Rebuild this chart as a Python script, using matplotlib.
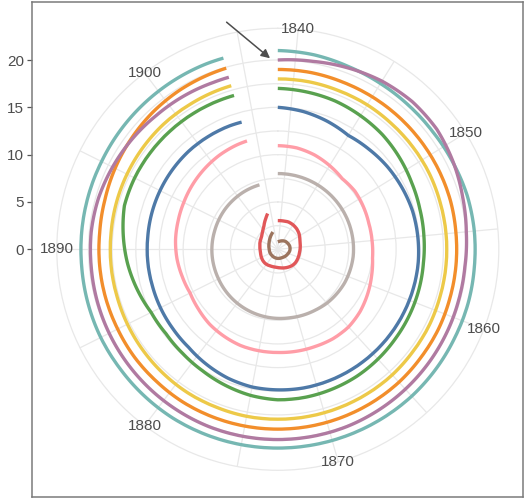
import numpy as np
import matplotlib
matplotlib.use("Agg")
import matplotlib.pyplot as plt

plt.rcParams['font.family'] = ['Liberation Sans', 'DejaVu Sans']

# ---------------- data ----------------
YEARS = [1839, 1841, 1843, 1845, 1847, 1849, 1851, 1853, 1855, 1857, 1859,
         1861, 1863, 1865, 1867, 1869, 1871, 1873, 1875, 1877, 1879, 1881,
         1883, 1885, 1887, 1889, 1891, 1893, 1895, 1897, 1899, 1901, 1903, 1904]

teal   = [21.0, 20.9, 20.7, 20.6, 20.55, 20.55, 20.65, 20.8, 20.85, 20.85, 20.9,
          20.9, 20.95, 21.0, 21.0, 21.0, 21.0, 21.0, 21.0, 21.0, 21.0, 20.95,
          20.9, 20.9, 20.85, 20.8, 20.8, 20.8, 20.8, 20.85, 20.9, 20.95, 21.0, 21.0]
purple = [20.0, 20.2, 20.55, 20.9, 21.1, 21.05, 20.7, 20.3, 20.0, 19.85, 19.85,
          19.9, 19.95, 20.0, 20.05, 20.1, 20.1, 20.1, 20.1, 20.1, 20.05, 20.0,
          19.95, 19.9, 19.85, 19.8, 19.8, 19.7, 19.5, 19.3, 19.1, 19.0, 18.9, 18.9]
orange = [19.0, 19.0, 18.95, 18.95, 18.95, 18.95, 18.95, 18.95, 18.9, 18.9, 18.9,
          18.95, 18.95, 19.0, 19.0, 19.0, 19.0, 19.0, 19.0, 19.0, 19.0, 18.95,
          18.95, 18.9, 18.9, 18.9, 18.9, 19.0, 19.2, 19.4, 19.6, 19.75, 19.85, 19.9]
yellow = [18.0, 18.0, 17.95, 17.95, 17.9, 17.9, 17.9, 17.85, 17.85, 17.85, 17.85,
          17.9, 17.9, 17.95, 17.95, 17.95, 17.95, 17.95, 17.95, 17.9, 17.9, 17.85,
          17.8, 17.75, 17.7, 17.7, 17.7, 17.75, 17.8, 17.85, 17.9, 17.9, 17.95, 17.97]
green  = [17.0, 16.9, 16.8, 16.6, 16.4, 16.1, 15.8, 15.6, 15.5, 15.45, 15.5,
          15.55, 15.6, 15.7, 15.8, 15.85, 15.9, 15.9, 15.7, 15.4, 15.1, 14.9,
          14.8, 14.95, 15.45, 15.95, 16.4, 16.85, 16.9, 16.9, 16.9, 16.9, 16.9, 16.9]
blue   = [15.0, 14.8, 14.5, 14.15, 14.3, 14.5, 14.65, 14.8, 14.85, 14.9, 14.9,
          14.9, 14.9, 14.9, 14.9, 14.9, 14.9, 14.85, 14.8, 14.6, 14.3, 14.0,
          13.9, 13.85, 13.8, 13.8, 13.8, 13.85, 13.9, 13.95, 14.0, 14.0, 14.0, 13.97]
pink   = [10.95, 10.9, 10.7, 10.4, 10.1, 10.2, 10.1, 10.0, 10.0, 10.05, 10.3,
          10.6, 10.9, 11.1, 11.1, 11.0, 10.95, 10.9, 10.9, 10.9, 10.8, 10.7,
          10.5, 10.35, 10.5, 10.7, 10.85, 10.95, 11.1, 11.3, 11.5, 11.7, 11.85, 11.9]
gray   = [8.0, 8.0, 8.0, 8.0, 8.0, 8.0, 8.0, 8.0, 8.0, 8.0, 7.95,
          7.9, 7.8, 7.7, 7.55, 7.45, 7.35, 7.3, 7.25, 7.2, 7.15, 7.1,
          7.05, 7.0, 6.98, 6.97, 6.96, 6.95, 6.97, 7.0, 7.02, 7.05, 7.07, 7.08]
red    = [3.03, 3.05, 3.1, 3.05, 2.95, 2.8, 2.6, 2.45, 2.38, 2.33, 2.32,
          2.33, 2.34, 2.3, 2.2, 2.1, 2.0, 1.93, 1.9, 1.92, 1.97, 2.0,
          1.98, 1.93, 1.88, 1.87, 1.9, 1.98, 2.06, 2.15, 2.4, 2.8, 3.5, 3.93]
brown  = [0.8, 0.85, 0.95, 1.05, 1.15, 1.2, 1.25, 1.3, 1.3, 1.28, 1.22,
          1.15, 1.1, 1.05, 1.0, 0.98, 0.97, 0.96, 0.95, 0.93, 0.92, 0.9,
          0.9, 0.9, 0.9, 0.9, 0.92, 0.98, 1.05, 1.15, 1.3, 1.5, 1.75, 1.9]

SERIES = [
    ("brown", brown, "#9C755F"),
    ("red", red, "#E15759"),
    ("gray", gray, "#BAB0AC"),
    ("pink", pink, "#FF9DA7"),
    ("blue", blue, "#4E79A7"),
    ("green", green, "#59A14F"),
    ("yellow", yellow, "#EDC948"),
    ("orange", orange, "#F28E2B"),
    ("teal", teal, "#76B7B2"),
    ("purple", purple, "#B07AA1"),
]

THETA_MIN, THETA_MAX = 1839, 1907          # theta scale limits (years)
MAJOR_YEARS = [1840, 1850, 1860, 1870, 1880, 1890, 1900]
GRID_YEARS = list(range(1840, 1906, 5))
R_TICKS = [0, 5, 10, 15, 20]
R_GRID = [2.5, 5, 7.5, 10, 12.5, 15, 17.5, 20]
R_OUT = 23.35

def th(y):
    return (np.asarray(y, dtype=float) - THETA_MIN) / (THETA_MAX - THETA_MIN) * 2 * np.pi

# ---------------- figure / layout ----------------
W, H, DPI = 527, 498, 100
fig = plt.figure(figsize=(W / DPI, H / DPI), dpi=DPI)

cx, cy, rpx = 277.8, 249.3, 221.0           # polar centre & outer radius (px)
px_unit = rpx / R_OUT
p_left, p_right, p_top, p_bot = 32.3, 523.3, 1.7, 496.9

# background panel with border + left r-axis
bg = fig.add_axes([p_left / W, (H - p_bot) / H, (p_right - p_left) / W, (p_bot - p_top) / H])
bg.set_xlim(0, 1)
bg.set_ylim(-(p_bot - cy) / px_unit, (cy - p_top) / px_unit)
bg.set_xticks([])
bg.set_yticks(R_TICKS)
bg.set_yticklabels([str(v) for v in R_TICKS])
bg.tick_params(axis='y', length=3.5, width=0.9, color='#555555', labelcolor='#4D4D4D',
               labelsize=11, pad=2.5)
for s in bg.spines.values():
    s.set_color('#7A7A7A')
    s.set_linewidth(1.1)
bg.set_facecolor('white')

# polar panel
ax = fig.add_axes([(cx - rpx) / W, (H - cy - rpx) / H, 2 * rpx / W, 2 * rpx / H],
                  projection='polar')
ax.set_theta_zero_location('N')
ax.set_theta_direction(-1)
ax.set_xlim(0, 2 * np.pi)
ax.set_ylim(0, R_OUT)
ax.patch.set_alpha(0)
ax.set_xticks(th(GRID_YEARS))
ax.set_xticklabels([])
ax.set_yticks(R_GRID)
ax.set_yticklabels([])
ax.tick_params(length=0)
ax.grid(True, color='#E8E8E8', linewidth=0.9)
ax.spines['polar'].set_color('#E8E8E8')
ax.spines['polar'].set_linewidth(0.9)

for name, vals, col in SERIES:
    ln, = ax.plot(th(YEARS), vals, color=col, linewidth=2.4, solid_capstyle='butt',
                  solid_joinstyle='round', zorder=3)
    ln.get_path()._interpolation_steps = 40   # draw segments as polar arcs

for y in MAJOR_YEARS:
    ax.text(th(y), R_OUT, str(y), ha='center', va='center', fontsize=11,
            color='#4D4D4D', zorder=4)

ax.annotate('', xy=(th(1838.56), 20.2), xytext=(th(1836.6), 24.6),
            arrowprops=dict(arrowstyle='-|>', color='#4D4D4D', lw=1.1,
                            mutation_scale=13, shrinkA=0, shrinkB=0),
            annotation_clip=False, zorder=5)

fig.savefig("out.png", dpi=DPI)
